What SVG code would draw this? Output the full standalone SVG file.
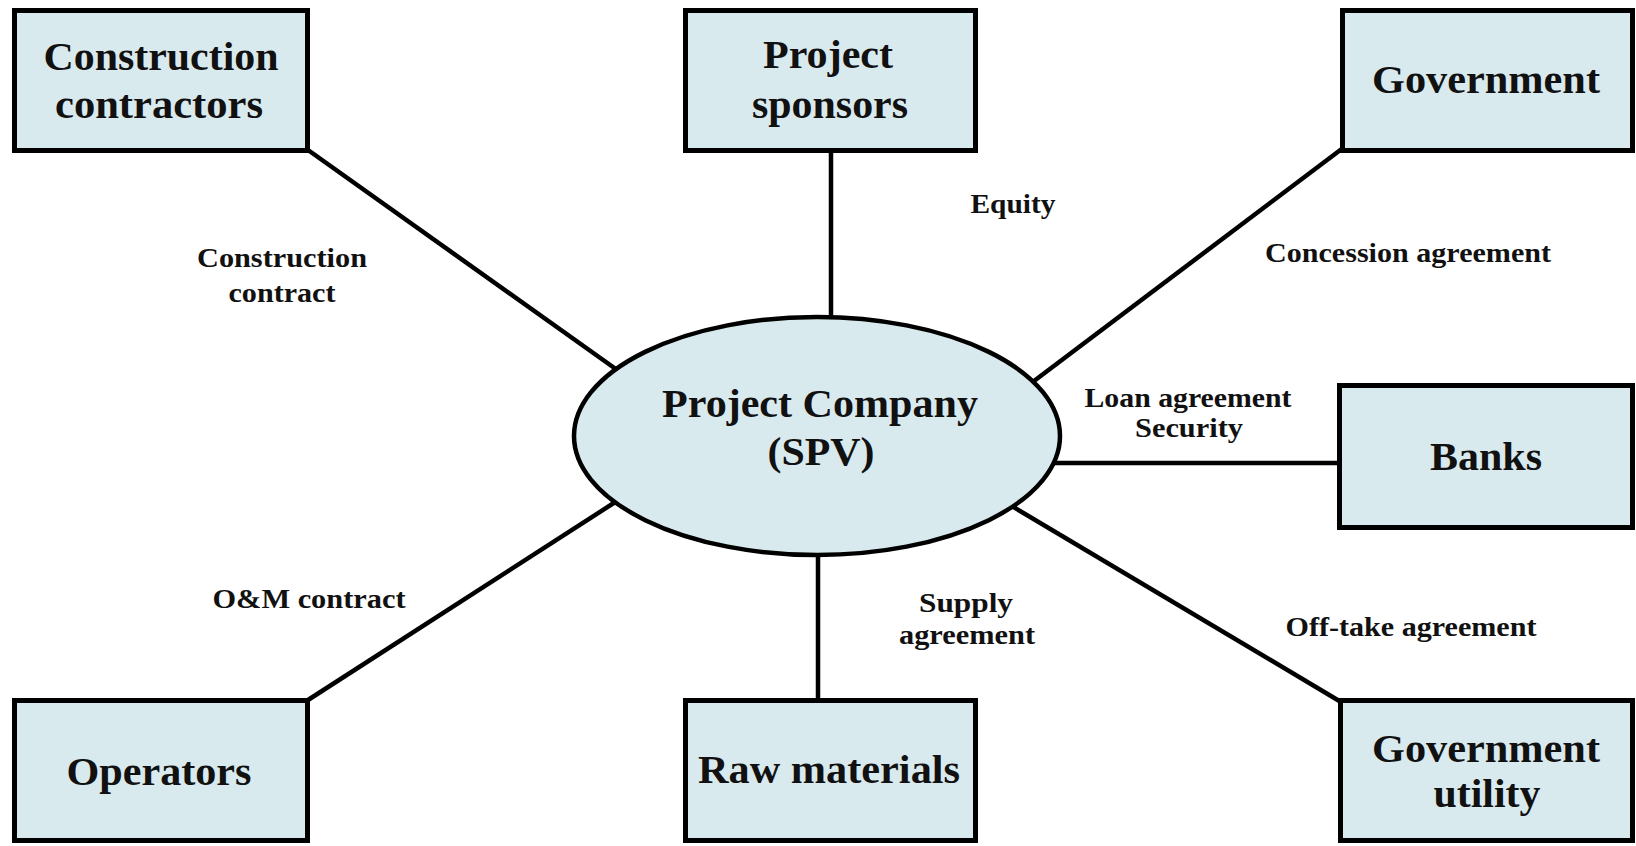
<svg xmlns="http://www.w3.org/2000/svg" width="1636" height="846" viewBox="0 0 1636 846">
<style>
.box{fill:#d9eaee;stroke:#000;stroke-width:5}
.ell{fill:#d9eaee;stroke:#000;stroke-width:4.5}
.conn line{stroke:#000;stroke-width:4.5}
text{font-family:"Liberation Serif","Times New Roman",serif;font-weight:bold;fill:#111;text-anchor:middle}
.t{font-size:40px}
.l{font-size:28px}
</style>
<rect width="1636" height="846" fill="#fff"/>
<g id="connectors" class="conn">
<line x1="308" y1="150" x2="620" y2="372"/>
<line x1="831" y1="150" x2="831" y2="325"/>
<line x1="1343" y1="148" x2="1030" y2="384"/>
<line x1="1045" y1="463" x2="1340" y2="463"/>
<line x1="1005" y1="502" x2="1341" y2="702"/>
<line x1="818" y1="548" x2="818" y2="701"/>
<line x1="620" y1="499" x2="308" y2="700"/>
</g>
<g id="labels">
<text class="l" x="282" y="267" textLength="170" lengthAdjust="spacingAndGlyphs">Construction</text>
<text class="l" x="282" y="302" textLength="107" lengthAdjust="spacingAndGlyphs">contract</text>
<text class="l" x="1013" y="213" textLength="85" lengthAdjust="spacingAndGlyphs">Equity</text>
<text class="l" x="1408" y="262" textLength="286" lengthAdjust="spacingAndGlyphs">Concession agreement</text>
<text class="l" x="1188" y="407" textLength="207" lengthAdjust="spacingAndGlyphs">Loan agreement</text>
<text class="l" x="1189" y="437" textLength="108" lengthAdjust="spacingAndGlyphs">Security</text>
<text class="l" x="309" y="608" textLength="193" lengthAdjust="spacingAndGlyphs">O&amp;M contract</text>
<text class="l" x="966" y="612" textLength="94" lengthAdjust="spacingAndGlyphs">Supply</text>
<text class="l" x="967" y="644" textLength="136" lengthAdjust="spacingAndGlyphs">agreement</text>
<text class="l" x="1411" y="636" textLength="251" lengthAdjust="spacingAndGlyphs">Off-take agreement</text>
</g>
<g id="spv">
<ellipse class="ell" cx="817" cy="436" rx="243" ry="119"/>
<text class="t" x="820" y="417" textLength="316" lengthAdjust="spacingAndGlyphs">Project Company</text>
<text class="t" x="821" y="465" textLength="107" lengthAdjust="spacingAndGlyphs">(SPV)</text>
</g>
<g id="construction-contractors">
<rect class="box" x="14.5" y="10.5" width="293" height="140"/>
<text class="t" x="161" y="70" textLength="235" lengthAdjust="spacingAndGlyphs">Construction</text>
<text class="t" x="159" y="118" textLength="208" lengthAdjust="spacingAndGlyphs">contractors</text>
</g>
<g id="project-sponsors">
<rect class="box" x="685.5" y="10.5" width="290" height="140"/>
<text class="t" x="828" y="68" textLength="130" lengthAdjust="spacingAndGlyphs">Project</text>
<text class="t" x="830" y="118" textLength="156" lengthAdjust="spacingAndGlyphs">sponsors</text>
</g>
<g id="government">
<rect class="box" x="1342.5" y="10.5" width="290" height="140"/>
<text class="t" x="1486" y="93" textLength="228" lengthAdjust="spacingAndGlyphs">Government</text>
</g>
<g id="banks">
<rect class="box" x="1339.5" y="385.5" width="293" height="142"/>
<text class="t" x="1486" y="470" textLength="112" lengthAdjust="spacingAndGlyphs">Banks</text>
</g>
<g id="operators">
<rect class="box" x="14.5" y="700.5" width="293" height="140"/>
<text class="t" x="159" y="785" textLength="185" lengthAdjust="spacingAndGlyphs">Operators</text>
</g>
<g id="raw-materials">
<rect class="box" x="685.5" y="700.5" width="290" height="140"/>
<text class="t" x="829" y="783" textLength="262" lengthAdjust="spacingAndGlyphs">Raw materials</text>
</g>
<g id="government-utility">
<rect class="box" x="1340.5" y="700.5" width="292" height="140"/>
<text class="t" x="1486" y="762" textLength="228" lengthAdjust="spacingAndGlyphs">Government</text>
<text class="t" x="1487" y="807" textLength="107" lengthAdjust="spacingAndGlyphs">utility</text>
</g>
</svg>
